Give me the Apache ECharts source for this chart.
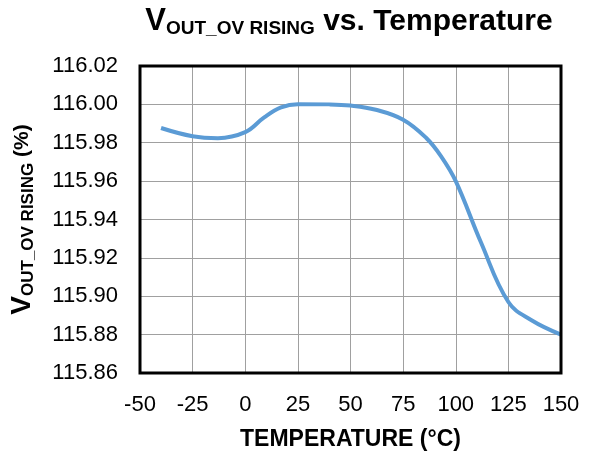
<!DOCTYPE html>
<html><head><meta charset="utf-8">
<script src="https://cdn.jsdelivr.net/npm/echarts@6/dist/echarts.min.js"></script>
<style>html,body{margin:0;padding:0;background:#fff}#c{width:593px;height:456px}</style>
</head><body><div id="c"></div>
<script>
const temps = [-40, -25, -13, 0, 9, 17, 25, 40, 50, 62, 75, 86, 93, 100, 112, 125, 136, 150];
const vout  = [115.9877, 115.9834, 115.9824, 115.9855, 115.9932, 115.9984, 116.0001, 116.0000, 115.9994, 115.9972, 115.9920, 115.9825, 115.9730, 115.9600, 115.9280, 115.8970, 115.8875, 115.8800];
const xTicks = {min: -50, max: 150, step: 25};
const yTicks = {min: 115.86, max: 116.02, step: 0.02};

const chart = echarts.init(document.getElementById('c'));
const font = 'Liberation Sans, Arial, sans-serif';
chart.setOption({
  animation: false,
  title: {
    text: '{v|V}{s|OUT_OV RISING}{t| vs. Temperature}',
    left: 344, top: 0, textAlign: 'center',
    textStyle: {
      rich: {
        v: {fontFamily: font, fontWeight: 'bold', fontSize: 31, color: '#000'},
        s: {fontFamily: font, fontWeight: 'bold', fontSize: 19, color: '#000', padding: [14, 0, 0, 0]},
        t: {fontFamily: font, fontWeight: 'bold', fontSize: 30, color: '#000'}
      }
    }
  },
  grid: {left: 140, right: 32, top: 66, bottom: 82, show: true, borderColor: '#000', borderWidth: 3, z: 10},
  xAxis: {
    type: 'value', min: xTicks.min, max: xTicks.max, interval: xTicks.step,
    name: 'TEMPERATURE (°C)', nameLocation: 'middle', nameGap: 55,
    nameTextStyle: {fontFamily: font, fontWeight: 'bold', fontSize: 23, color: '#000'},
    axisLine: {show: false}, axisTick: {show: false},
    axisLabel: {fontFamily: font, fontSize: 22, color: '#000', margin: 21},
    splitLine: {show: true, lineStyle: {color: '#a0a0a0', width: 1}}
  },
  yAxis: {
    type: 'value', min: yTicks.min, max: yTicks.max, interval: yTicks.step,
    name: '{v|V}{s|OUT_OV RISING}{t| (%)}', nameLocation: 'middle', nameGap: 103, nameRotate: 90,
    nameTextStyle: {
      rich: {
        v: {fontFamily: font, fontWeight: 'bold', fontSize: 28, color: '#000'},
        s: {fontFamily: font, fontWeight: 'bold', fontSize: 17, color: '#000', padding: [12, 0, 0, 0]},
        t: {fontFamily: font, fontWeight: 'bold', fontSize: 21, color: '#000'}
      }
    },
    axisLine: {show: false}, axisTick: {show: false},
    axisLabel: {fontFamily: font, fontSize: 22, color: '#000', margin: 22, formatter: v => v.toFixed(2)},
    splitLine: {show: true, lineStyle: {color: '#a0a0a0', width: 1}}
  },
  series: [{
    type: 'line', data: temps.map((t, i) => [t, vout[i]]),
    smooth: 0.4, showSymbol: false,
    lineStyle: {color: '#5b9bd5', width: 4}
  }]
});
</script></body></html>
